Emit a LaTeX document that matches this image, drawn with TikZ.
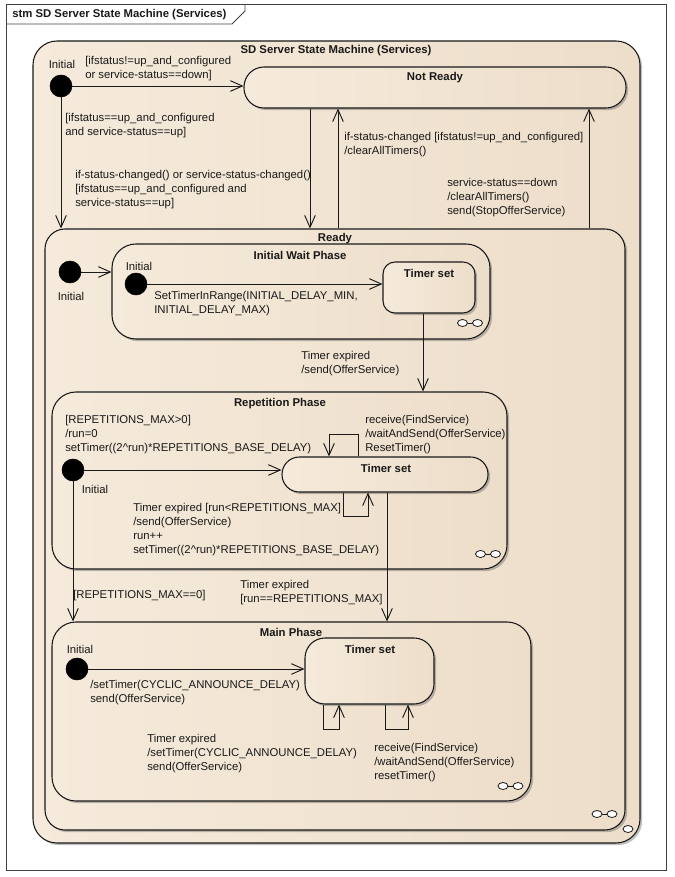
\documentclass[tikz,border=0pt]{standalone}
\usepackage{fontspec}
\setmainfont{Liberation Sans}
\usetikzlibrary{arrows.meta,shadows}
\definecolor{stL}{RGB}{245,234,219}
\definecolor{stM}{RGB}{253,248,241}
\definecolor{stR}{RGB}{237,222,202}
\definecolor{ln}{RGB}{25,25,25}
\begin{document}
\begin{tikzpicture}[x=0.75pt,y=-0.75pt,
  every node/.style={font=\fontsize{8.5}{10.7}\selectfont, text=ln},
  ttl/.style={font=\bfseries\fontsize{8.5}{10.7}\selectfont, inner sep=0, yshift=-0.8pt},
  lbl/.style={align=left, anchor=north west, inner sep=0, execute at begin node=\strut, yshift=-1.9pt},
  plain/.style={inner sep=0},
  state/.style={draw=ln, line width=0.8pt, left color=stL, middle color=stM, right color=stR,
    drop shadow={shadow xshift=1.6pt, shadow yshift=-1.6pt, opacity=0.35, fill=black!70}, inner sep=0},
  init/.style={circle, fill=black, draw=black, minimum size=16.5pt, inner sep=0},
  tr/.style={draw=ln, line width=0.7pt, -{Straight Barb[length=9pt,width=8pt,line width=0.7pt]}},
  oo/.pic={\draw[line width=0.6pt, draw=ln] (-2.5,0) -- (2.5,0);
           \draw[line width=0.6pt, draw=ln, fill=white] (-7.5,0) ellipse [x radius=5, y radius=3.5];
           \draw[line width=0.6pt, draw=ln, fill=white] (7.5,0) ellipse [x radius=5, y radius=3.5];}
]
\useasboundingbox (0,0) rectangle (674,877);
% frame
\draw[line width=0.6pt, draw=black!75] (6,4) rectangle (666,870);
\draw[line width=0.6pt, draw=black!75] (6,24) -- (232,24) -- (245,11) -- (245,4);
\node[ttl, anchor=west] (hdr) at (12,14) {stm SD Server State Machine (Services)};

% outer state
\node[state, rounded corners=18pt, minimum width=455.25pt, minimum height=601.5pt] (sm) at (336.5,442) {};
\node[ttl] (smT) at (336,50) {SD Server State Machine (Services)};
\draw[line width=0.6pt, draw=ln, fill=white] (628,829) ellipse [x radius=5, y radius=3.5];

% Not Ready
\node[state, rounded corners=15pt, minimum width=286.5pt, minimum height=30.75pt] (nr) at (435,87.5) {};
\node[ttl] (nrT) at (435,77) {Not Ready};

% Ready
\node[state, rounded corners=15pt, minimum width=435pt, minimum height=450.75pt] (rd) at (335,529.5) {};
\node[ttl] (rdT) at (335,238) {Ready};
\pic at (604.5,814) {oo};

% Initial Wait Phase
\node[state, rounded corners=18pt, minimum width=283.5pt, minimum height=71.25pt] (iw) at (301,291.5) {};
\node[ttl] (iwT) at (300,254) {Initial Wait Phase};
\pic at (470,323) {oo};
\node[state, rounded corners=9pt, minimum width=69pt, minimum height=38.25pt] (t1) at (429,287.5) {};
\node[ttl] (t1T) at (429,272) {Timer set};

% Repetition Phase
\node[state, rounded corners=18pt, minimum width=341.25pt, minimum height=132.75pt] (rp) at (279.5,480.5) {};
\node[ttl] (rpT) at (280,403) {Repetition Phase};
\pic at (488,554) {oo};
\node[state, rounded corners=13pt, minimum width=154.5pt, minimum height=26.25pt] (t2) at (385,474.5) {};
\node[ttl] (t2T) at (386,467) {Timer set};

% Main Phase
\node[state, rounded corners=18pt, minimum width=359.25pt, minimum height=134.25pt] (mp) at (291.5,711.5) {};
\node[ttl] (mpT) at (291,631) {Main Phase};
\pic at (510.5,786) {oo};
\node[state, rounded corners=15pt, minimum width=96.75pt, minimum height=49.5pt] (t3) at (369.5,671) {};
\node[ttl] (t3T) at (370,648) {Timer set};

% initial pseudo states
\node[init] (i0) at (61,86) {};
\node[plain] (i0L) at (62,64) {Initial};
\node[init] (i1) at (70,272) {};
\node[plain] (i1L) at (71,296) {Initial};
\node[init] (i2) at (136,284) {};
\node[plain] (i2L) at (139,266) {Initial};
\node[init] (i3) at (73,470) {};
\node[plain] (i3L) at (95,489) {Initial};
\node[init] (i4) at (77,669) {};
\node[plain] (i4L) at (80,649) {Initial};

% helper x positions
\coordinate (xa) at (310,0);
\coordinate (xb) at (338,0);
\coordinate (xc) at (589,0);
\coordinate (xd) at (423,0);
\coordinate (xe) at (387,0);
\coordinate (xf) at (358,0);
\coordinate (xg) at (329,0);
\coordinate (xh) at (343,0);
\coordinate (xi) at (368,0);
\coordinate (xj) at (323,0);
\coordinate (xk) at (339,0);
\coordinate (xl) at (385,0);
\coordinate (xm) at (408,0);

% transitions
\draw[tr] (i0) -- (i0 -| nr.west);
\draw[tr] (i0) -- (i0 |- rd.north);
\draw[tr] (xa |- nr.south) -- (xa |- rd.north);
\draw[tr] (xb |- rd.north) -- (xb |- nr.south);
\draw[tr] (xc |- rd.north) -- (xc |- nr.south);
\draw[tr] (i1) -- (i1 -| iw.west);
\draw[tr] (i2) -- (i2 -| t1.west);
\draw[tr] (xd |- t1.south) -- (xd |- rp.north);
\draw[tr] (i3) -- (i3 -| t2.west);
\draw[tr] (xf |- t2.north) -- ++(0,-22) -| (xg |- t2.north);
\draw[tr] (xh |- t2.south) -- ++(0,24) -| (xi |- t2.south);
\draw[tr] (i3) -- (i3 |- mp.north);
\draw[tr] (xe |- t2.south) -- (xe |- mp.north);
\draw[tr] (i4) -- (i4 -| t3.west);
\draw[tr] (xj |- t3.south) -- ++(0,25) -| (xk |- t3.south);
\draw[tr] (xl |- t3.south) -- ++(0,25) -| (xm |- t3.south);

% labels
\node[lbl] (l1) at (85,53) {[ifstatus!=up\_and\_configured\\or service-status==down]};
\node[lbl] (l2) at (65,110) {[ifstatus==up\_and\_configured\\and service-status==up]};
\node[lbl] (l3) at (75,167) {if-status-changed() or service-status-changed()\\{}[ifstatus==up\_and\_configured and\\service-status==up]};
\node[lbl] (l4) at (344,129) {if-status-changed [ifstatus!=up\_and\_configured]\\/clearAllTimers()};
\node[lbl] (l5) at (447,175) {service-status==down\\/clearAllTimers()\\send(StopOfferService)};
\node[lbl] (l6) at (154,288) {SetTimerInRange(INITIAL\_DELAY\_MIN,\\INITIAL\_DELAY\_MAX)};
\node[lbl] (l7) at (301,348) {Timer expired\\/send(OfferService)};
\node[lbl] (l8) at (65,412) {[REPETITIONS\_MAX>0]\\/run=0\\setTimer((2\textasciicircum run)*REPETITIONS\_BASE\_DELAY)};
\node[lbl] (l9) at (365,412) {receive(FindService)\\/waitAndSend(OfferService)\\ResetTimer()};
\node[lbl] (l10) at (133,500) {Timer expired [run<REPETITIONS\_MAX]\\/send(OfferService)\\run++\\setTimer((2\textasciicircum run)*REPETITIONS\_BASE\_DELAY)};
\node[lbl] (l11) at (73,586) {[REPETITIONS\_MAX==0]};
\node[lbl] (l12) at (240,577) {Timer expired\\{}[run==REPETITIONS\_MAX]};
\node[lbl] (l13) at (90,677) {/setTimer(CYCLIC\_ANNOUNCE\_DELAY)\\send(OfferService)};
\node[lbl] (l14) at (147,731) {Timer expired\\/setTimer(CYCLIC\_ANNOUNCE\_DELAY)\\send(OfferService)};
\node[lbl] (l15) at (374,740) {receive(FindService)\\/waitAndSend(OfferService)\\resetTimer()};
\end{tikzpicture}
\end{document}
